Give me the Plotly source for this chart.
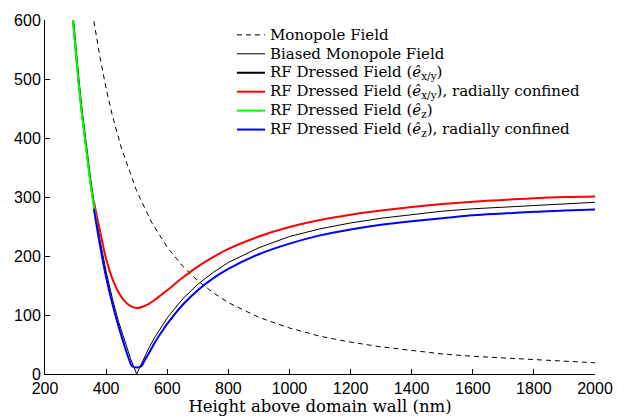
import plotly.graph_objects as go

# Height above the domain wall (nm) and field magnitudes for each curve
mono_x = [360, 380, 400, 420, 450, 500, 550, 600, 650, 700, 750, 800, 900, 1000,
          1100, 1200, 1300, 1400, 1500, 1600, 1700, 1800, 1900, 2000]
mono_y = [598, 537, 484, 439, 383, 310, 256, 215, 183, 158, 138, 121, 96, 78,
          64, 54, 46, 40, 34, 30, 27, 24, 21, 19]

biased_x = [290, 300, 320, 340, 360, 380, 400, 420, 440, 460, 480, 500, 520, 540,
            560, 580, 600, 650, 700, 750, 800, 900, 1000, 1100, 1200, 1300, 1400,
            1500, 1600, 1700, 1800, 1900, 2000]
biased_y = [612, 551, 447, 360, 288, 227, 174, 129, 90, 56, 26, 0, 23, 44,
            63, 80, 95, 127, 152, 172, 189, 214, 233, 246, 256, 264, 270,
            276, 280, 283, 286, 289, 291]

rfxy_x = [290, 300, 310, 320, 330, 340, 350, 360, 370]
rfxy_y = [612, 551, 497, 447, 402, 360, 322, 288, 256]

rfz_x = [290, 300, 310, 320, 330, 340, 350, 360, 370]
rfz_y = [608, 547, 493, 443, 398, 356, 318, 284, 253]

rfxy_conf_x = [360, 370, 380, 400, 420, 440, 460, 480, 500, 520, 540, 560, 580,
               600, 650, 700, 750, 800, 900, 1000, 1100, 1200, 1300, 1400, 1500,
               1600, 1700, 1800, 1900, 2000]
rfxy_conf_y = [292, 267, 243, 195, 162, 139, 124, 115, 112, 114, 119, 126, 134,
               142, 163, 182, 198, 212, 233, 249, 261, 270, 277, 283, 288,
               292, 295, 298, 300, 301]

rfz_conf_x = [360, 380, 400, 420, 440, 460, 475, 485, 500, 515, 525, 540, 560,
              580, 600, 650, 700, 750, 800, 900, 1000, 1100, 1200, 1300, 1400,
              1500, 1600, 1700, 1800, 1900, 2000]
rfz_conf_y = [280, 218, 164, 120, 82, 48, 25, 13, 11, 13, 22, 35, 54,
              70, 85, 117, 142, 162, 178, 203, 221, 235, 245, 253, 259,
              264, 269, 272, 275, 277, 279]

x_ticks = [200, 400, 600, 800, 1000, 1200, 1400, 1600, 1800, 2000]
y_ticks = [0, 100, 200, 300, 400, 500, 600]

names = [
    "Monopole Field",
    "Biased Monopole Field",
    "RF Dressed Field (<i>ê</i><sub>x/y</sub>)",
    "RF Dressed Field (<i>ê</i><sub>x/y</sub>), radially confined",
    "RF Dressed Field (<i>ê</i><sub>z</sub>)",
    "RF Dressed Field (<i>ê</i><sub>z</sub>), radially confined",
]
styles = [
    dict(color="black", width=1, dash="5px,4px"),
    dict(color="black", width=1),
    dict(color="black", width=2),
    dict(color="#ff0000", width=2),
    dict(color="#00ff00", width=2),
    dict(color="#0000ff", width=2),
]
series = [
    (mono_x, mono_y, "linear"),
    (biased_x, biased_y, "linear"),
    (rfxy_x, rfxy_y, "linear"),
    (rfxy_conf_x, rfxy_conf_y, "spline"),
    (rfz_x, rfz_y, "linear"),
    (rfz_conf_x, rfz_conf_y, "spline"),
]

SERIF = "DejaVu Serif, Liberation Serif, serif"

fig = go.Figure()
for name, style, (xs, ys, shape) in zip(names, styles, series):
    fig.add_trace(go.Scatter(x=xs, y=ys, mode="lines", name=name,
                             line=dict(shape=shape, **style)))

# Legend block: short line samples with labels, stacked in the upper middle
leg_x0, leg_x1, leg_text = 0.349, 0.400, 0.406
leg_top, leg_step = 0.958, 0.0535
for i, (name, style) in enumerate(zip(names, styles)):
    yy = leg_top - i * leg_step
    fig.add_shape(type="line", xref="paper", yref="paper",
                  x0=leg_x0, x1=leg_x1, y0=yy, y1=yy, line=style)
    fig.add_annotation(xref="paper", yref="paper", x=leg_text, y=yy,
                       xanchor="left", yanchor="middle", showarrow=False,
                       text=name, font=dict(family=SERIF, size=15, color="black"))

axis_common = dict(showline=True, linecolor="black", linewidth=1, mirror=False,
                   ticks="inside", ticklen=5, tickcolor="black", showgrid=False,
                   zeroline=False, automargin=False,
                   tickfont=dict(family="Liberation Sans, Arial", size=16, color="black"))

fig.update_xaxes(range=[200, 2000], tickvals=x_ticks, **axis_common,
                 title=dict(text="Height above domain wall (nm)", standoff=4,
                            font=dict(family=SERIF, size=16.5, color="black")))
fig.update_yaxes(range=[0, 600], tickvals=y_ticks, **axis_common)

fig.update_layout(
    width=631, height=419,
    margin=dict(l=45, r=36, t=20, b=45),
    plot_bgcolor="white", paper_bgcolor="white",
    showlegend=False,
)

fig.write_html("out.html")
